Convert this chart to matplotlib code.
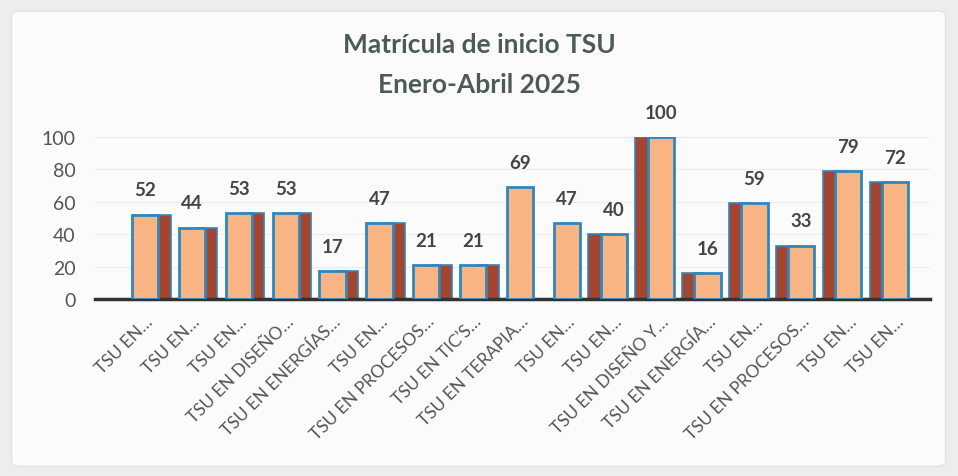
import matplotlib.pyplot as plt
from matplotlib.patches import FancyBboxPatch

# Data
carreras = ["TSU EN…", "TSU EN…", "TSU EN…", "TSU EN DISEÑO…", "TSU EN ENERGÍAS…",
            "TSU EN…", "TSU EN PROCESOS…", "TSU EN TIC’S…", "TSU EN TERAPIA…",
            "TSU EN…", "TSU EN…", "TSU EN DISEÑO Y…", "TSU EN ENERGÍA…",
            "TSU EN…", "TSU EN PROCESOS…", "TSU EN…", "TSU EN…"]
matricula = [52, 44, 53, 53, 17, 47, 21, 21, 69, 47, 40, 100, 16, 59, 33, 79, 72]
yticks = [0, 20, 40, 60, 80, 100]

# Style
face = '#F8B483'
side = '#A4452F'
edge = '#2F86BE'
txt = '#454545'

plt.rcParams['font.family'] = ['Lato', 'DejaVu Sans']

fig = plt.figure(figsize=(9.58, 4.77), dpi=100, facecolor='#eceeed')
fig.patches.append(FancyBboxPatch((0.012, 0.02), 0.975, 0.955, boxstyle='round,pad=0,rounding_size=0.01',
                                  transform=fig.transFigure, facecolor='#fbfbfb', edgecolor='#e2e2e2',
                                  linewidth=1, zorder=-10))

ax = fig.add_axes([0.099, 0.371, 0.872, 0.34])
ax.set_facecolor('none')

x = list(range(len(carreras)))
center = 8.5
for i, v in zip(x, matricula):
    d = i - center
    if abs(d) > 1:
        off = 0.32 if d < 0 else -0.32
        ax.bar(i + off, v, width=0.45, color=side, edgecolor=edge, linewidth=1.2, zorder=2)
    ax.bar(i, v, width=0.56, color=face, edgecolor=edge, linewidth=2, zorder=3)
    ax.text(i, v + 10, str(v), ha='center', va='bottom', fontsize=13.5, fontweight='bold',
            color=txt, clip_on=False)

ax.set_xlim(-1.07, 16.75)
ax.set_ylim(0, 100)
ax.set_yticks(yticks)
ax.set_yticklabels([str(t) for t in yticks], fontsize=14, color='#555555')
ax.set_xticks(x)
ax.set_xticklabels(carreras, rotation=45, ha='right', rotation_mode='anchor',
                   fontsize=12.5, color='#555555')
ax.tick_params(length=0, pad=14)
ax.tick_params(axis='x', pad=10)
ax.grid(axis='y', color='#ececec', linewidth=0.8, zorder=0)
for s in ['top', 'right', 'left']:
    ax.spines[s].set_visible(False)
ax.spines['bottom'].set_color('#333333')
ax.spines['bottom'].set_linewidth(2.5)

fig.text(0.5, 0.905, 'Matrícula de inicio TSU', ha='center', va='center',
         fontsize=19, fontweight='bold', color='#4d5c52')
fig.text(0.5, 0.822, 'Enero-Abril 2025', ha='center', va='center',
         fontsize=19, fontweight='bold', color='#4d5c52')

plt.savefig('out.png', dpi=100, facecolor=fig.get_facecolor())
